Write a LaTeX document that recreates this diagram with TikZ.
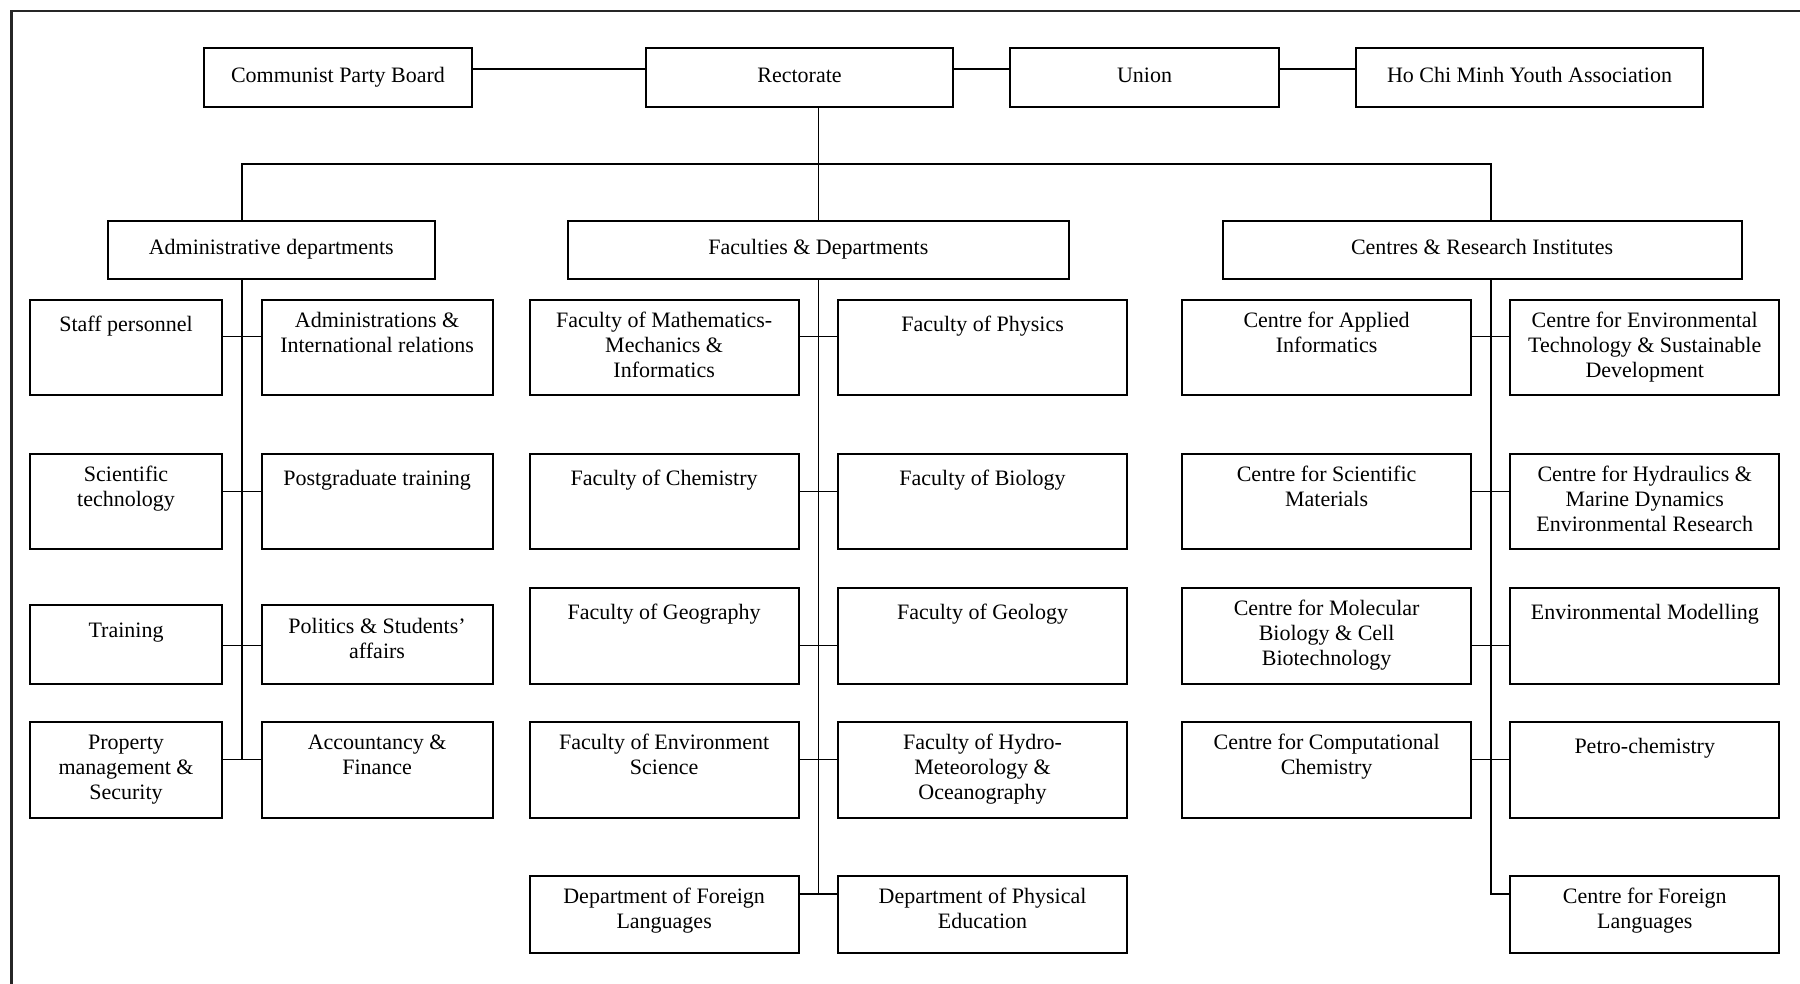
\documentclass[tikz,border=0pt]{standalone}
\usepackage{fontspec}
\setmainfont{Liberation Serif}
\usetikzlibrary{fit}
\tikzset{
  box/.style={draw=black, line width=1pt, inner sep=0pt, outer sep=0pt, rectangle},
  boxtext/.style={inner sep=0pt, outer sep=0pt, align=center, font=\fontsize{11}{12.5}\selectfont},
  link/.style={draw=black, line width=0.75pt},
  frameline/.style={draw=black!85, line width=1.2pt},
}
% \unitbox[drop]{name}{x1}{y1}{x2}{y2}{text}: a box given by two corners, its text set from the top
\newcommand{\unitbox}[7][5.25pt]{%
  \node[box, fit={(#3,#4) (#5,#6)}] (#2) {};
  \node[boxtext, anchor=north] (#2-t) at ([yshift=-#1]#2.north) {\strut #7};
}
% single-line units sit a little lower in their boxes
\newcommand{\unitboxone}[6]{\unitbox[7.25pt]{#1}{#2}{#3}{#4}{#5}{#6}}
% \headbox{name}{x1}{y1}{x2}{y2}{text}: a box with one centred line of text
\newcommand{\headbox}[6]{%
  \node[box, fit={(#2,#3) (#4,#5)}] (#1) {};
  \node[boxtext, anchor=base] (#1-t) at ([yshift=-2.4pt]#1.center) {#6};
}
\begin{document}
\begin{tikzpicture}[x=0.5pt, y=-0.5pt]
\useasboundingbox (0,0) rectangle (1800,984);
\fill[white] (0,0) rectangle (1800,984);
% outer frame
\draw[frameline] (11.5,984) -- (11.5,11) -- (1800,11);

% top row
\headbox{cpb}{204}{48}{472}{107}{Communist Party Board}
\headbox{rect}{646}{48}{953}{107}{Rectorate}
\headbox{union}{1010}{48}{1279}{107}{Union}
\headbox{hcm}{1356}{48}{1703}{107}{Ho Chi Minh Youth Association}

% second level
\headbox{adm}{108}{220.7}{434.5}{279.3}{Administrative departments}
\headbox{fac}{568}{220.7}{1068.8}{279.3}{Faculties \& Departments}
\headbox{cen}{1222.6}{220.7}{1741.5}{279.3}{Centres \& Research Institutes}

% administrative departments
\unitboxone{a1l}{29.8}{299.6}{222.3}{395.4}{Staff personnel}
\unitbox{a1r}{261.7}{299.6}{492.5}{395.4}{Administrations \&\\International relations}
\unitbox{a2l}{29.8}{453.9}{222.3}{549.3}{Scientific\\technology}
\unitboxone{a2r}{261.7}{453.9}{492.5}{549.3}{Postgraduate training}
\unitboxone{a3l}{29.8}{605.4}{222.3}{683.6}{Training}
\unitbox{a3r}{261.7}{605.4}{492.5}{683.6}{Politics \& Students’\\affairs}
\unitbox{a4l}{29.8}{721.8}{222.3}{817.5}{Property\\management \&\\Security}
\unitbox{a4r}{261.7}{721.8}{492.5}{817.5}{Accountancy \&\\Finance}

% faculties and departments
\unitbox{f1l}{529.8}{299.6}{798.5}{395.4}{Faculty of Mathematics-\\Mechanics \&\\Informatics}
\unitboxone{f1r}{838.3}{299.6}{1126.8}{395.4}{Faculty of Physics}
\unitboxone{f2l}{529.8}{453.9}{798.5}{549.3}{Faculty of Chemistry}
\unitboxone{f2r}{838.3}{453.9}{1126.8}{549.3}{Faculty of Biology}
\unitboxone{f3l}{529.8}{587.5}{798.5}{683.6}{Faculty of Geography}
\unitboxone{f3r}{838.3}{587.5}{1126.8}{683.6}{Faculty of Geology}
\unitbox{f4l}{529.8}{721.8}{798.5}{817.5}{Faculty of Environment\\Science}
\unitbox{f4r}{838.3}{721.8}{1126.8}{817.5}{Faculty of Hydro-\\Meteorology \&\\Oceanography}
\unitbox{f5l}{529.8}{875.7}{798.5}{952.7}{Department of Foreign\\Languages}
\unitbox{f5r}{838.3}{875.7}{1126.8}{952.7}{Department of Physical\\Education}

% centres and research institutes
\unitbox{c1l}{1182.3}{299.6}{1470.9}{395.4}{Centre for Applied\\Informatics}
\unitbox{c1r}{1510.2}{299.6}{1779.3}{395.4}{Centre for Environmental\\Technology \& Sustainable\\Development}
\unitbox{c2l}{1182.3}{453.9}{1470.9}{549.3}{Centre for Scientific\\Materials}
\unitbox{c2r}{1510.2}{453.9}{1779.3}{549.3}{Centre for Hydraulics \&\\Marine Dynamics\\Environmental Research}
\unitbox{c3l}{1182.3}{587.5}{1470.9}{683.6}{Centre for Molecular\\Biology \& Cell\\Biotechnology}
\unitboxone{c3r}{1510.2}{587.5}{1779.3}{683.6}{Environmental Modelling}
\unitbox{c4l}{1182.3}{721.8}{1470.9}{817.5}{Centre for Computational\\Chemistry}
\unitboxone{c4r}{1510.2}{721.8}{1779.3}{817.5}{Petro-chemistry}
\unitbox{c5r}{1510.2}{875.7}{1779.3}{952.7}{Centre for Foreign\\Languages}

% reference lines for the connectors
\coordinate (top) at (0,69);
\coordinate (bus) at (0,164);
\coordinate (admx) at (241.8,0);
\coordinate (facx) at (818.3,0);
\coordinate (cenx) at (1490.8,0);
\coordinate (r1) at (0,336.4);
\coordinate (r2) at (0,491.4);
\coordinate (r3) at (0,645.4);
\coordinate (r4) at (0,759.3);
\coordinate (r5) at (0,894);

% top row links
\draw[link] (cpb.east |- top) -- (rect.west |- top);
\draw[link] (rect.east |- top) -- (union.west |- top);
\draw[link] (union.east |- top) -- (hcm.west |- top);

% rectorate to the three branches
\draw[link] (facx |- rect.south) -- (facx |- fac.north);
\draw[link] (admx |- adm.north) -- (admx |- bus) -- (cenx |- bus) -- (cenx |- cen.north);

% trunks
\draw[link] (admx |- adm.south) -- (admx |- r4);
\draw[link] (facx |- fac.south) -- (facx |- r5);
\draw[link] (cenx |- cen.south) -- (cenx |- r5) -- (c5r.west |- r5);

% paired units
\foreach \g/\r in {a/1,a/2,a/3,a/4,f/1,f/2,f/3,f/4,f/5,c/1,c/2,c/3,c/4}
  \draw[link] (\g\r l.east |- r\r) -- (\g\r r.west |- r\r);
\end{tikzpicture}
\end{document}
